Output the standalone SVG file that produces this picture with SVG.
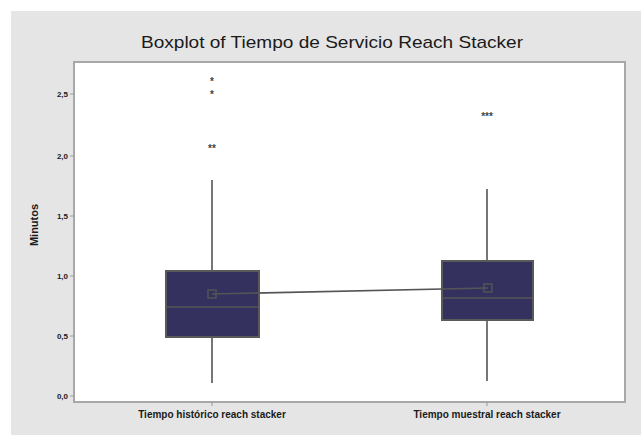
<svg xmlns="http://www.w3.org/2000/svg" width="641" height="435" viewBox="0 0 641 435">
<style>
.lbl{font-family:"Liberation Sans",Arial,sans-serif;fill:#1a1a1a}
.tick{font-size:8px;font-weight:bold;text-anchor:end}
.xl{font-size:10px;font-weight:bold;text-anchor:middle}
.box{fill:#35315f;stroke:#5a5a5a;stroke-width:2}
.ln{stroke:#555;stroke-width:1.6;fill:none}
.out{font-family:"Liberation Sans",Arial,sans-serif;font-size:10px;font-weight:bold;fill:#444;text-anchor:middle}
</style>
<rect width="641" height="435" fill="#ffffff"/>
<rect x="11" y="11" width="630" height="424" fill="#e5e5e5"/>
<text class="lbl" x="332" y="48" font-size="17" text-anchor="middle" textLength="382" lengthAdjust="spacingAndGlyphs" font-family="'Open Sans',sans-serif">Boxplot of Tiempo de Servicio Reach Stacker</text>
<rect x="74" y="62" width="551" height="340" fill="#ffffff" stroke="#a8a8a8" stroke-width="2"/>
<g id="yaxis">
<g stroke="#999" stroke-width="1">
<line x1="70" y1="94" x2="74" y2="94"/><line x1="70" y1="156" x2="74" y2="156"/><line x1="70" y1="216" x2="74" y2="216"/>
<line x1="70" y1="276" x2="74" y2="276"/><line x1="70" y1="336" x2="74" y2="336"/><line x1="70" y1="396" x2="74" y2="396"/>
</g>
<text class="lbl tick" x="68" y="97">2,5</text>
<text class="lbl tick" x="68" y="159">2,0</text>
<text class="lbl tick" x="68" y="219">1,5</text>
<text class="lbl tick" x="68" y="279">1,0</text>
<text class="lbl tick" x="68" y="339">0,5</text>
<text class="lbl tick" x="68" y="399">0,0</text>
<text class="lbl" x="38" y="225" font-size="11" font-weight="bold" text-anchor="middle" transform="rotate(-90 38 225)">Minutos</text>
</g>
<g id="xaxis">
<g stroke="#999" stroke-width="1">
<line x1="212" y1="402" x2="212" y2="406"/><line x1="487" y1="402" x2="487" y2="406"/>
</g>
<text class="lbl xl" x="212" y="418">Tiempo histórico reach stacker</text>
<text class="lbl xl" x="487" y="418">Tiempo muestral reach stacker</text>
</g>
<g id="box1">
<line class="ln" x1="212" y1="180" x2="212" y2="383"/>
<rect class="box" x="166" y="271" width="93" height="66"/>
<line class="ln" x1="167" y1="307" x2="258" y2="307"/>
<text class="out" x="212" y="85">*</text>
<text class="out" x="212" y="98">*</text>
<text class="out" x="212" y="152">**</text>
</g>
<g id="box2">
<line class="ln" x1="487" y1="189" x2="487" y2="381"/>
<rect class="box" x="442" y="261" width="91" height="59"/>
<line class="ln" x1="443" y1="298" x2="532" y2="298"/>
<text class="out" x="487" y="120">***</text>
</g>
<g id="connectors">
<line class="ln" x1="212" y1="294" x2="488" y2="288"/>
<rect x="208" y="290" width="8" height="8" fill="none" stroke="#555" stroke-width="1.4"/>
<rect x="484" y="284" width="8" height="8" fill="none" stroke="#555" stroke-width="1.4"/>
</g>
</svg>
